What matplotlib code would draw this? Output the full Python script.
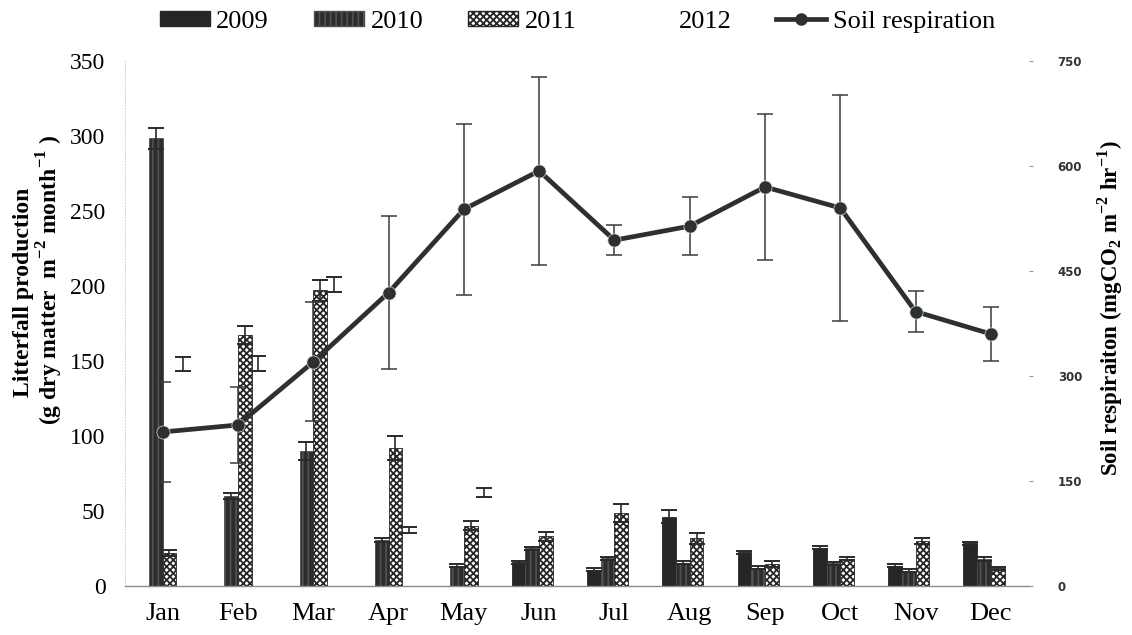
import numpy as np
import matplotlib
matplotlib.use("Agg")
import matplotlib.pyplot as plt
from matplotlib.patches import Patch
from matplotlib.lines import Line2D

plt.rcParams['font.family'] = ['Liberation Serif', 'DejaVu Serif']
plt.rcParams['mathtext.fontset'] = 'custom'
plt.rcParams['mathtext.rm'] = 'Liberation Serif'
plt.rcParams['mathtext.bf'] = 'Liberation Serif:bold'
plt.rcParams['hatch.linewidth'] = 1.3

months = ['Jan', 'Feb', 'Mar', 'Apr', 'May', 'Jun', 'Jul', 'Aug', 'Sep', 'Oct', 'Nov', 'Dec']
nan = np.nan
lit_2009 = [nan, nan, nan, nan, nan, 15.8, 10.7, 46.2, 22.4, 25.6, 13.6, 28.4]
lit_2010 = [298.5, 60, 90, 30.7, 13.5, 25, 18.4, 15.6, 12.2, 15, 10.2, 18]
lit_2011 = [22, 167, 197, 92, 40, 33, 48.4, 31.8, 14.4, 18, 30, 11.8]
lit_2012 = [148, 148, 201, 37, 62, nan, nan, nan, nan, nan, nan, nan]
err_2009 = [nan, nan, nan, nan, nan, 1, 1, 4.5, 1, 1, 1, 1.2]
err_2010 = [7, 2, 6, 1.5, 1, 1, 1, 1, 1, 1, 1, 1.5]
err_2011 = [2, 6, 7, 8, 3, 3, 6, 3.5, 2, 1, 2, 1]
err_2012 = [4.5, 5, 5, 2, 3, nan, nan, nan, nan, nan, nan, nan]

soil_resp = [220, 230, 320, 419, 538, 593, 494, 514, 570, 540, 392, 360]
soil_err = [71, 54, 85, 109, 122, 134, 21, 41, 104, 161, 29, 38]

left_ticks = [0, 50, 100, 150, 200, 250, 300, 350]
right_ticks = [0, 150, 300, 450, 600, 750]

fig = plt.figure(figsize=(11.32, 6.35), dpi=100)
ax = fig.add_axes([0.1104, 0.0772, 0.7982, 0.8268])

x = np.arange(len(months))
w = 0.182
style_09 = dict(facecolor='#262626', edgecolor='#262626')
style_10 = dict(facecolor='#2c2c2c', edgecolor='#505050', hatch='|||')
style_11 = dict(facecolor='white', edgecolor='#262626', hatch='xxxxx')
style_12 = dict(facecolor='none', edgecolor='none')
series = [
    (lit_2009, err_2009, style_09),
    (lit_2010, err_2010, style_10),
    (lit_2011, err_2011, style_11),
    (lit_2012, err_2012, style_12),
]
for i, (vals, errs, style) in enumerate(series):
    pos = x + (i - 1.5) * w
    v = np.array(vals, dtype=float)
    e = np.array(errs, dtype=float)
    ax.bar(pos, np.nan_to_num(v), width=w, linewidth=0.6, zorder=2, **style)
    ax.errorbar(pos, v, yerr=e, fmt='none', ecolor='#2a2a2a', elinewidth=1.2,
                capsize=6, capthick=1.4, zorder=3)

ax.set_xlim(-0.5, 11.5)
ax.set_ylim(0, 350)
ax.set_yticks(left_ticks)
ax.set_xticks(x)
ax.set_xticklabels(months, fontsize=19)
ax.tick_params(axis='x', length=0, pad=12)
ax.tick_params(axis='y', length=0, pad=14, labelsize=17)
for s in ['top', 'right']:
    ax.spines[s].set_visible(False)
ax.spines['left'].set_color('#d8d8d8')
ax.spines['left'].set_linestyle(':')
ax.spines['bottom'].set_color('#8a8a8a')
ax.spines['bottom'].set_linewidth(1.0)

ax2 = ax.twinx()
ax2.set_ylim(0, 750)
ax2.set_yticks(right_ticks)
ax2.tick_params(axis='y', length=3, width=0.8, color='#999999', pad=18, labelsize=8.5)
for lab in ax2.get_yticklabels():
    lab.set_fontfamily('DejaVu Sans')
    lab.set_fontweight('bold')
    lab.set_color('#333333')
for s in ['top', 'right', 'left', 'bottom']:
    ax2.spines[s].set_visible(False)
ax2.errorbar(x, soil_resp, yerr=soil_err, fmt='none', ecolor='#3a3a3a',
             elinewidth=1.1, capsize=6, capthick=1.1, zorder=4)
ax2.plot(x, soil_resp, color='#2c3030', lw=3.4, marker='o', markersize=9.5,
         markerfacecolor='#2c3030', markeredgecolor='#dddddd', markeredgewidth=0.5, zorder=5)

fig.text(0.021, 0.54, 'Litterfall production', rotation=90, fontsize=17,
         fontweight='bold', ha='center', va='center')
fig.text(0.044, 0.56, r'(g dry matter  m$^{\mathbf{-2}}$ month$^{\mathbf{-1}}$ )', rotation=90,
         fontsize=17, fontweight='bold', ha='center', va='center')
fig.text(0.981, 0.515, r'Soil respiraiton (mgCO$_{\mathbf{2}}$ m$^{\mathbf{-2}}$ hr$^{\mathbf{-1}}$)',
         rotation=90, fontsize=16.5, fontweight='bold', ha='center', va='center')

handles = [
    Patch(**style_09),
    Patch(**style_10),
    Patch(**style_11),
    Patch(**style_12),
    Line2D([0], [0], color='#2c3030', lw=3.4, marker='o', markersize=8),
]
labels = ['2009', '2010', '2011', '2012', 'Soil respiration']
fig.legend(handles, labels, loc='center', bbox_to_anchor=(0.51, 0.966), ncol=5,
           frameon=False, fontsize=19, handlelength=1.9, handleheight=0.5,
           handletextpad=0.25, columnspacing=1.7)

fig.savefig('out.png', dpi=100)
